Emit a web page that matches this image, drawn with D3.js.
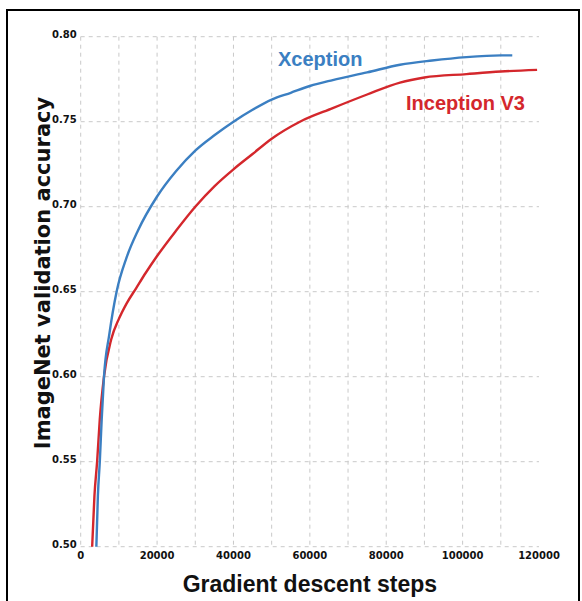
<!DOCTYPE html>
<html>
<head>
<meta charset="utf-8">
<title>Xception vs Inception V3</title>
<script src="https://cdn.jsdelivr.net/npm/d3@7"></script>
<style>
	body { margin: 0; background: #fff; }
	.grid line { stroke: #c9c9c9; stroke-width: 1; stroke-dasharray: 4,4; }
	.tick-label { font-family: "DejaVu Sans", sans-serif; font-weight: bold; font-size: 10px; fill: #111; }
	.curve { fill: none; stroke-width: 2.4; stroke-linejoin: round; }
</style>
</head>
<body>
<script>
var width = 582,
	height = 601;

// tick values
var xTicks = [0, 20000, 40000, 60000, 80000, 100000, 120000];
var xGrid = [0, 10000, 20000, 30000, 40000, 50000, 60000, 70000, 80000, 90000, 100000, 110000];
var yTicks = [0.50, 0.55, 0.60, 0.65, 0.70, 0.75, 0.80];

// steps, accuracy
var xceptionSteps = [4100, 4500, 5000, 5500, 6100, 7500, 9400, 12000, 15000, 20000, 25000, 30000, 35000, 40000, 45000, 50000, 55000, 60000, 66000, 75000, 83600, 92000, 101000, 110000, 113000];
var xceptionAcc   = [0.500, 0.530, 0.550, 0.575, 0.600, 0.625, 0.650, 0.670, 0.686, 0.706, 0.721, 0.733, 0.742, 0.750, 0.757, 0.763, 0.767, 0.771, 0.7745, 0.779, 0.7835, 0.786, 0.788, 0.789, 0.789];

var inceptionSteps = [3000, 3600, 4300, 5000, 6100, 8000, 10000, 12000, 14500, 17000, 20000, 25000, 30000, 35000, 40000, 45000, 50000, 57400, 66000, 75000, 83600, 90000, 101000, 110000, 119500];
var inceptionAcc   = [0.500, 0.530, 0.550, 0.575, 0.600, 0.622, 0.634, 0.643, 0.652, 0.661, 0.671, 0.686, 0.700, 0.712, 0.722, 0.731, 0.740, 0.750, 0.758, 0.766, 0.773, 0.776, 0.778, 0.7795, 0.7805];

var margin = { left: 80.7, right: 43, top: 36.7, bottom: 54.3 };

var svg = d3.select("body").append("svg")
	.attr("width", width)
	.attr("height", height);

// outer frame
svg.append("rect")
	.attr("x", 7).attr("y", 10)
	.attr("width", 572).attr("height", 620)
	.attr("fill", "none")
	.attr("stroke", "#000")
	.attr("stroke-width", 2);

var xScale = d3.scaleLinear()
	.domain([0, 120000])
	.range([margin.left, width - margin.right]);
var yScale = d3.scaleLinear()
	.domain([0.5, 0.8])
	.range([height - margin.bottom, margin.top]);

// grid
var grid = svg.append("g").attr("class", "grid");
grid.selectAll(".v")
	.data(xGrid)
	.enter()
	.append("line")
	.attr("x1", function (d) { return xScale(d); })
	.attr("x2", function (d) { return xScale(d); })
	.attr("y1", yScale(0.8))
	.attr("y2", yScale(0.5));
grid.selectAll(".h")
	.data(yTicks)
	.enter()
	.append("line")
	.attr("x1", xScale(0))
	.attr("x2", xScale(120000))
	.attr("y1", function (d) { return yScale(d); })
	.attr("y2", function (d) { return yScale(d); });

// tick labels
svg.selectAll(".ylab")
	.data(yTicks)
	.enter()
	.append("text")
	.attr("class", "tick-label")
	.attr("x", margin.left - 4)
	.attr("y", function (d) { return yScale(d) - 2; })
	.attr("dy", "0.35em")
	.attr("text-anchor", "end")
	.text(function (d) { return d3.format(".2f")(d); });

svg.selectAll(".xlab")
	.data(xTicks)
	.enter()
	.append("text")
	.attr("class", "tick-label")
	.attr("x", function (d) { return xScale(d); })
	.attr("y", yScale(0.5) + 12)
	.attr("text-anchor", "middle")
	.text(function (d) { return d; });

// curves
var line = d3.line()
	.x(function (d) { return xScale(d[0]); })
	.y(function (d) { return yScale(d[1]); })
	.curve(d3.curveMonotoneX);

svg.append("path")
	.attr("class", "curve")
	.attr("stroke", "#d4272c")
	.attr("d", line(d3.zip(inceptionSteps, inceptionAcc)));
svg.append("path")
	.attr("class", "curve")
	.attr("stroke", "#3b7fc2")
	.attr("d", line(d3.zip(xceptionSteps, xceptionAcc)));

// series labels
svg.append("text")
	.attr("x", 278).attr("y", 66)
	.attr("fill", "#3b7fc2")
	.style("font-family", "'Liberation Sans Narrow', 'Liberation Sans', sans-serif")
	.style("font-weight", "bold")
	.style("font-size", "20px")
	.text("Xception");
svg.append("text")
	.attr("x", 406).attr("y", 110)
	.attr("fill", "#d4272c")
	.style("font-family", "'Liberation Sans Narrow', 'Liberation Sans', sans-serif")
	.style("font-weight", "bold")
	.style("font-size", "20px")
	.text("Inception V3");

// axis titles
svg.append("text")
	.attr("x", (xScale(0) + xScale(120000)) / 2)
	.attr("y", 592)
	.attr("text-anchor", "middle")
	.style("font-family", "'Liberation Sans Narrow', 'Liberation Sans', sans-serif")
	.style("font-weight", "bold")
	.style("font-size", "23px")
	.attr("fill", "#111")
	.text("Gradient descent steps");

svg.append("text")
	.attr("transform", "translate(50," + 273 + ") rotate(-90)")
	.attr("text-anchor", "middle")
	.style("font-family", "'DejaVu Sans', sans-serif")
	.style("font-weight", "bold")
	.style("font-size", "21px")
	.attr("fill", "#111")
	.text("ImageNet validation accuracy");
</script>
</body>
</html>
